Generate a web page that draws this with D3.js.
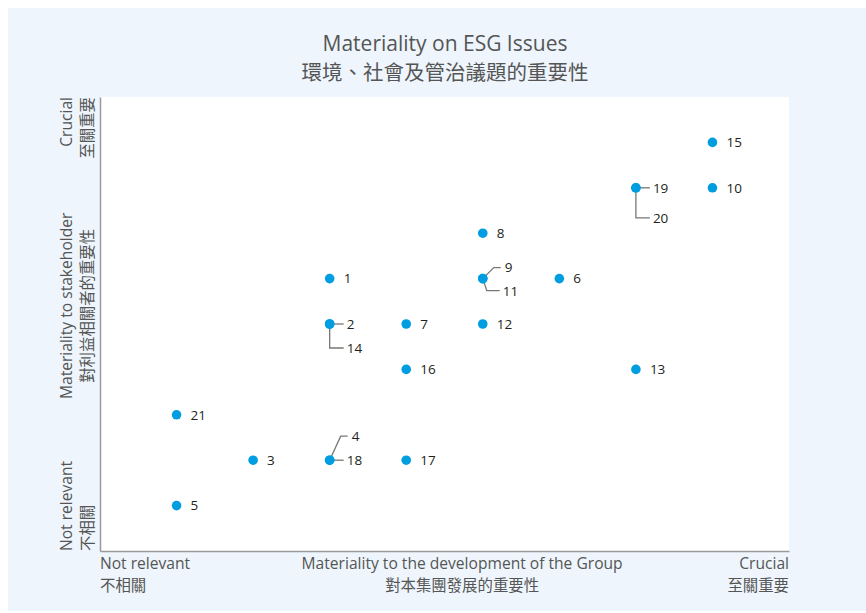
<!DOCTYPE html>
<meta charset="utf-8">
<script src="https://cdn.jsdelivr.net/npm/d3@7"></script>
<style type="text/css">
body { margin: 0; background: #fff; }
.axis path { stroke: #9a9a9a; stroke-width: 1.5; }
.axis line { display: none; }
.lbl { font-family: "Open Sans", "Noto Sans", sans-serif; font-size: 13.5px; fill: #231f20; }
.ttl { font-family: "Open Sans", "Noto Sans", "Noto Sans CJK TC", sans-serif; fill: #555; }
.cjk { font-family: "Noto Sans CJK TC", sans-serif; fill: #555; }
.leader { fill: none; stroke: #777; stroke-width: 1.3; }
</style>
<body>
</body>
<script>
// issue numbers and their grid level on each axis (1 = least, higher = more material)
var issues = ["15","19","10","20","8","1","9","11","6","2","14","7","12","16","13","21","3","4","18","17","5"];
var groupLevel = [8, 7, 8, 7, 5, 3, 5, 5, 6, 3, 3, 4, 5, 4, 7, 1, 2, 3, 3, 4, 1];
var stakeLevel = [9, 8, 8, 8, 7, 6, 6, 6, 6, 5, 5, 5, 5, 4, 4, 3, 2, 2, 2, 2, 1];
// how the number is attached when two issues share a spot
var callout = ["", "right", "", "below", "", "", "upper", "lower", "", "right", "below", "", "", "", "", "", "", "upper", "right", "", ""];

var titleLines = ["Materiality on ESG Issues", "環境、社會及管治議題的重要性"];
var xLabels = [["Not relevant", "不相關"], ["Materiality to the development of the Group", "對本集團發展的重要性"], ["Crucial", "至關重要"]];
var yLabels = [["Not relevant", "不相關"], ["Materiality to stakeholder", "對利益相關者的重要性"], ["Crucial", "至關重要"]];

var W = 866, H = 613;
var svg = d3.select("body").append("svg").attr("width", W).attr("height", H);

svg.append("rect").attr("x", 8).attr("y", 8).attr("width", W - 8).attr("height", H - 10).attr("fill", "#eef5fc");

var x = d3.scaleLinear().domain([0, 9]).range([100, 789]);
var y = d3.scaleLinear().domain([0, 10]).range([551, 97]);

svg.append("rect").attr("x", x(0)).attr("y", y(10)).attr("width", x(9) - x(0)).attr("height", y(0) - y(10)).attr("fill", "#fff");

svg.append("g").attr("class", "axis").attr("transform", "translate(0," + y(0) + ")")
  .call(d3.axisBottom(x).ticks(0).tickSizeOuter(0));
svg.append("g").attr("class", "axis").attr("transform", "translate(" + x(0) + ",0)")
  .call(d3.axisLeft(y).ticks(0).tickSizeOuter(0));

// title
svg.append("text").attr("class", "ttl").attr("x", 445).attr("y", 51).attr("text-anchor", "middle")
  .attr("font-size", "21px").text(titleLines[0]);
svg.append("text").attr("class", "cjk").attr("x", 445).attr("y", 80).attr("text-anchor", "middle")
  .attr("font-size", "20.5px").text(titleLines[1]);

// x axis labels
var xa = [[x(0), "start"], [x(4.73), "middle"], [x(9), "end"]];
xLabels.forEach(function(l, i) {
  svg.append("text").attr("class", "ttl").attr("x", xa[i][0]).attr("y", 569).attr("text-anchor", xa[i][1])
    .attr("font-size", "15.6px").text(l[0]);
  svg.append("text").attr("class", "cjk").attr("x", xa[i][0]).attr("y", 591).attr("text-anchor", xa[i][1])
    .attr("font-size", "15.4px").text(l[1]);
});

// y axis labels (rotated)
var ya = [[y(0), "start"], [y(5.4), "middle"], [y(10), "end"]];
yLabels.forEach(function(l, i) {
  svg.append("text").attr("class", "ttl").attr("text-anchor", ya[i][1]).attr("font-size", "15.6px")
    .attr("transform", "translate(72," + ya[i][0] + ") rotate(-90)").text(l[0]);
  svg.append("text").attr("class", "cjk").attr("text-anchor", ya[i][1]).attr("font-size", "15.4px")
    .attr("transform", "translate(93," + ya[i][0] + ") rotate(-90)").text(l[1]);
});

// leader lines
var drop = {"20": 30, "14": 24, "9": 11, "4": 24};
issues.forEach(function(id, i) {
  var cx = x(groupLevel[i]), cy = y(stakeLevel[i]);
  var c = callout[i], p = null, tx = cx + 14, ty = cy;
  if (c == "right") {
    p = [[cx, cy], [cx + 14, cy]]; tx = cx + 17;
  } else if (c == "below") {
    var d = drop[id];
    p = [[cx, cy], [cx, cy + d], [cx + 14, cy + d]]; tx = cx + 17; ty = cy + d;
  } else if (c == "upper") {
    var u = drop[id];
    p = [[cx, cy], [cx + 11, cy - u], [cx + 18, cy - u]]; tx = cx + 22; ty = cy - u;
  } else if (c == "lower") {
    p = [[cx, cy], [cx + 4, cy + 12], [cx + 17, cy + 12]]; tx = cx + 20; ty = cy + 13;
  }
  if (p) svg.append("path").attr("class", "leader").attr("d", d3.line()(p));
  svg.append("text").attr("class", "lbl").attr("x", tx).attr("y", ty).attr("dy", "0.36em").text(id);
});

svg.selectAll(".dot").data(issues).enter().append("circle")
  .attr("class", "dot")
  .attr("cx", function(d, i) { return x(groupLevel[i]); })
  .attr("cy", function(d, i) { return y(stakeLevel[i]); })
  .attr("r", 4.8)
  .attr("fill", "#009ee0");
</script>
